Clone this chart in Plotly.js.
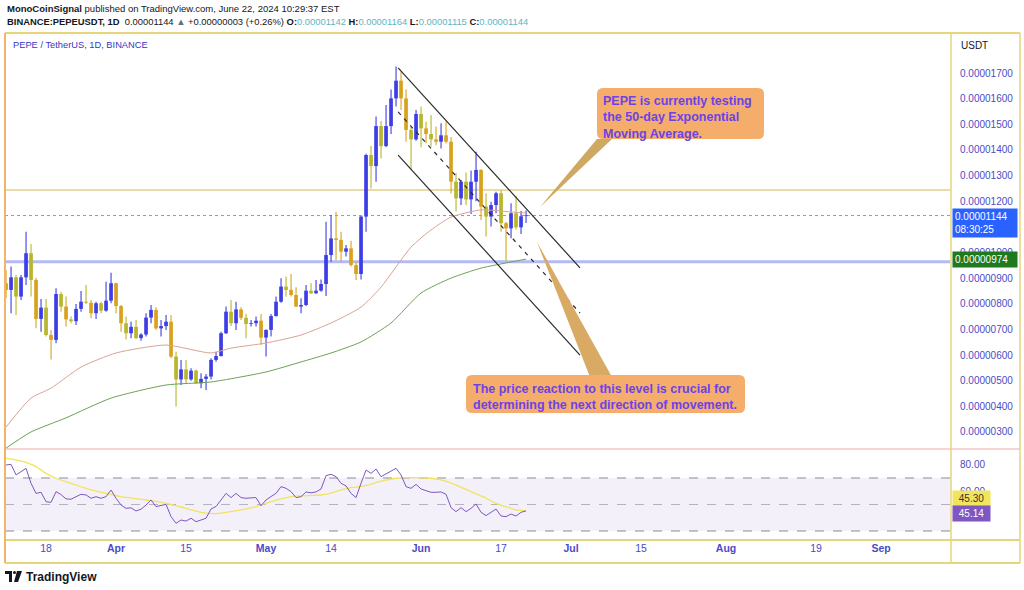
<!DOCTYPE html>
<html><head><meta charset="utf-8">
<script src="https://cdn.plot.ly/plotly-3.0.1.min.js"></script>
<style>html,body{margin:0;padding:0;background:#fff}#chart{width:1024px;height:590px}</style>
</head><body><div id="chart"></div>
<script>
// ---------------- DATA (prices in millionths of USDT) ----------------
const U = 1e-6;
const firstDay = [2024, 2, 10]; // 10 March 2024, daily candles
const openP = [8.80,8.54,9.03,8.28,9.03,9.97,8.93,7.41,7.85,6.78,
 6.59,8.38,7.89,7.39,7.32,7.80,8.08,8.04,7.63,8.02,
 7.73,8.12,8.80,7.91,7.24,6.85,7.10,6.66,6.80,7.46,
 7.76,7.04,7.13,7.30,5.94,5.05,5.44,5.05,5.39,4.90,
 5.07,5.16,5.81,5.96,6.85,7.69,7.24,7.78,7.45,7.21,
 7.24,7.34,6.68,6.98,7.52,8.08,8.67,8.54,8.34,7.89,
 7.95,8.51,8.41,8.51,8.77,9.90,10.55,10.49,10.03,10.16,
 9.51,9.16,11.40,13.80,13.37,14.93,14.15,14.93,16.01,16.70,
 16.01,14.78,14.41,15.40,14.84,14.62,14.41,14.32,14.57,14.32,
 12.76,12.11,12.76,12.07,12.76,13.22,11.79,11.40,11.85,12.31,
 11.14,10.94,11.53,10.98,11.42];
const highP = [9.32,9.45,9.12,9.12,10.81,10.33,9.00,8.19,8.19,6.98,
 8.60,8.47,8.28,7.50,7.99,8.50,8.73,8.15,8.08,8.08,
 8.86,9.21,8.82,7.95,7.50,7.30,7.37,6.85,7.63,7.95,
 7.86,7.37,7.56,7.56,6.13,5.81,5.81,5.48,5.44,5.29,
 5.26,5.87,6.13,6.91,7.89,8.15,8.08,7.86,7.60,7.37,
 7.50,7.60,7.00,7.60,8.28,8.99,9.06,9.16,8.64,8.21,
 8.73,8.80,8.93,8.95,11.20,11.46,11.59,10.81,10.29,10.46,
 9.64,11.42,13.85,14.15,15.30,15.13,15.75,16.36,17.25,17.05,
 16.36,14.91,15.56,15.69,15.10,15.36,14.91,15.04,15.10,14.50,
 13.10,12.83,13.12,13.20,13.93,13.25,12.31,11.98,12.37,12.44,
 11.20,11.92,12.20,11.62,11.64];
const lowP = [8.21,7.63,7.56,8.15,8.73,8.28,7.04,6.91,6.72,5.83,
 6.46,7.69,7.11,7.24,7.17,7.69,7.99,7.43,7.41,7.63,
 7.69,8.02,7.63,6.91,6.61,6.65,6.62,6.56,6.72,7.24,
 6.98,6.72,6.98,5.87,3.99,4.83,4.90,5.00,4.87,4.70,
 4.64,5.05,5.74,5.94,6.82,7.13,6.98,7.37,6.65,7.11,
 7.11,6.39,5.94,6.72,7.50,8.04,8.28,8.28,7.86,7.63,
 7.91,8.38,8.38,8.47,8.30,9.64,9.71,9.64,9.84,9.45,
 8.93,8.95,10.81,12.50,12.76,13.67,14.10,14.62,15.69,15.56,
 14.32,13.24,14.36,14.10,14.26,14.13,14.19,14.06,14.26,12.30,
 11.60,11.85,11.85,11.50,12.00,11.27,10.62,11.01,11.53,10.81,
 9.68,10.55,10.90,10.72,11.15];
const closeP = [8.54,9.03,8.28,9.03,9.97,8.93,7.41,7.85,6.78,6.59,
 8.38,7.89,7.39,7.32,7.80,8.08,8.04,7.63,8.02,7.73,
 8.12,8.80,7.91,7.24,6.85,7.10,6.66,6.80,7.46,7.76,
 7.04,7.13,7.30,5.94,5.05,5.44,5.05,5.39,4.90,5.07,
 5.16,5.81,5.96,6.85,7.69,7.24,7.78,7.45,7.21,7.24,
 7.34,6.68,6.98,7.52,8.08,8.67,8.54,8.34,7.89,7.95,
 8.51,8.41,8.51,8.77,9.90,10.55,10.49,10.03,10.16,9.51,
 9.16,11.40,13.80,13.37,14.93,14.15,14.93,16.01,16.70,16.01,
 14.78,14.41,15.40,14.84,14.62,14.41,14.32,14.57,14.32,12.76,
 12.11,12.76,12.07,12.76,13.22,11.79,11.40,11.85,12.31,11.14,
 10.94,11.53,10.98,11.41,11.44];
// candle numbers (1-based) drawn in the muted olive bearish tone
const oliveCandles = [3,6,9,12,14,17,20,25,27,35,37,39,46,49,57,62,74,76,82,84,86,91,93,97,100,103];

const emaFastDates = ['2024-03-10','2024-03-15','2024-03-19','2024-03-25','2024-04-01','2024-04-11','2024-04-20','2024-04-24','2024-05-01','2024-05-08','2024-05-14','2024-05-20','2024-05-24','2024-05-30','2024-06-03','2024-06-07','2024-06-13','2024-06-19','2024-06-22'];
const emaFast = [3.19,4.32,4.71,5.53,6.08,6.39,6.08,6.27,6.47,6.78,7.25,7.87,8.65,10.21,10.88,11.38,11.66,11.58,11.54];
const emaSlowDates = ['2024-03-10','2024-03-15','2024-03-22','2024-03-31','2024-04-11','2024-04-20','2024-05-01','2024-05-08','2024-05-14','2024-05-20','2024-05-26','2024-06-01','2024-06-07','2024-06-13','2024-06-19','2024-06-22'];
const emaSlow = [2.37,3.00,3.55,4.32,4.83,4.95,5.34,5.73,6.08,6.51,7.25,8.42,9.00,9.39,9.63,9.74];

const rsi = [79.8,80.3,72.3,75.0,77.3,66.0,58.4,59.2,52.1,51.6,
 59.7,57.5,54.2,54.0,55.9,57.7,57.2,54.7,55.9,54.7,
 55.9,60.9,54.7,49.6,47.1,47.5,45.1,46.5,49.6,53.4,
 48.4,49.0,50.1,40.8,35.8,38.3,37.5,39.6,37.0,38.3,
 39.6,46.6,48.5,53.4,58.4,55.2,58.4,55.2,54.7,55.0,
 55.2,49.1,53.4,56.0,58.4,63.5,62.2,59.7,55.2,55.9,
 59.5,58.8,59.5,61.7,71.8,72.8,71.0,66.0,64.0,58.4,
 55.2,66.0,76.0,73.5,76.8,71.0,73.0,75.5,77.3,72.3,
 63.5,62.2,65.2,61.7,60.2,59.2,59.2,59.5,57.7,47.6,
 44.6,47.6,44.6,47.1,50.4,44.1,41.6,43.8,46.6,41.3,
 40.8,42.8,41.3,44.1,45.14];
const rsiMaDates = ['2024-03-10','2024-03-12','2024-03-14','2024-03-16','2024-03-18','2024-03-20','2024-03-23','2024-03-26','2024-03-30','2024-04-02','2024-04-07','2024-04-11','2024-04-15','2024-04-18','2024-04-21','2024-04-23','2024-04-26','2024-04-29','2024-05-02','2024-05-06','2024-05-09','2024-05-13','2024-05-16','2024-05-18','2024-05-21','2024-05-24','2024-05-27','2024-05-29','2024-06-03','2024-06-05','2024-06-08','2024-06-11','2024-06-14','2024-06-16','2024-06-19','2024-06-20','2024-06-21','2024-06-22'];
const rsiMa = [84.8,83.6,81.8,78.6,73.5,69.8,66.0,62.2,58.4,55.9,53.4,50.9,47.1,44.1,43.1,44.1,45.9,48.4,52.1,55.9,56.7,57.7,61.0,62.7,64.2,67.7,69.8,70.3,69.8,68.5,64.7,59.7,54.7,50.9,47.1,46.0,45.6,45.30];

const channelDates = ['2024-05-27 10:00','2024-07-02 19:00'];
const channelUpper = [17.20, 9.40];
const channelMid = [15.48, 7.64];
const channelLower = [13.80, 6.00];
const resistanceLevel = 12.44;
const supportLevel = 9.64;

const timeTickDates = ['2024-03-18','2024-04-01','2024-04-15','2024-05-01','2024-05-14','2024-06-01','2024-06-17','2024-07-01','2024-07-15','2024-08-01','2024-08-19','2024-09-01'];
const timeTickText = ['18','<b>Apr</b>','15','<b>May</b>','14','<b>Jun</b>','17','<b>Jul</b>','15','<b>Aug</b>','19','<b>Sep</b>'];
// 0.00001100 sits under the live-price label in the reference, so it is not listed
const priceTicks = [3,4,5,6,7,8,9,10,12,13,14,15,16,17];
const rsiTicks = [40,60,80];

// ---------------- BUILD ----------------
const dates = openP.map((_, i) => new Date(Date.UTC(firstDay[0], firstDay[1], firstDay[2] + i)).toISOString().slice(0, 10));
const BULL = '#3d3de6', GOLD = '#d9a21e', OLIVE = '#b7b62c';
const colors = openP.map((o, i) => closeP[i] >= o ? BULL : (oliveCandles.includes(i + 1) ? OLIVE : GOLD));
const DAY = 86400000;

const FONT = 'Liberation Sans, Arial, sans-serif';
const TICKC = '#4b4bc6';
const W = 1024, H = 590, ML = 5, MR = 74, MT = 33, MB = 50;
const pw = W - ML - MR, ph = H - MT - MB;
const px = x => (x - ML) / pw;
const py = y => (H - MB - y) / ph;

function roundRect(x0, y0, x1, y1, r) {
  const a = px(x0), b = px(x1), t = py(y0), u = py(y1), rx = r / pw, ry = r / ph;
  return `M ${a+rx} ${t} L ${b-rx} ${t} Q ${b} ${t} ${b} ${t-ry} L ${b} ${u+ry} Q ${b} ${u} ${b-rx} ${u} L ${a+rx} ${u} Q ${a} ${u} ${a} ${u+ry} L ${a} ${t-ry} Q ${a} ${t} ${a+rx} ${t} Z`;
}
function tri(p) { return 'M ' + p.map(q => px(q[0]) + ' ' + py(q[1])).join(' L ') + ' Z'; }
function hline(y, x0, x1, color, w) { return {type:'line', xref:'paper', yref:'paper', x0:px(x0), x1:px(x1), y0:py(y), y1:py(y), line:{color, width:w}, layer:'above'}; }
function vline(x, y0, y1, color, w) { return {type:'line', xref:'paper', yref:'paper', x0:px(x), x1:px(x), y0:py(y0), y1:py(y1), line:{color, width:w}, layer:'above'}; }

const traces = [
  {type:'bar', x:dates, base:lowP.map(v => v*U), y:highP.map((h,i) => (h-lowP[i])*U), width:0.22*DAY,
   marker:{color:colors, line:{width:0}}, hoverinfo:'skip', yaxis:'y'},
  {type:'bar', x:dates, base:openP.map((o,i) => Math.min(o, closeP[i])*U), y:openP.map((o,i) => Math.max(Math.abs(closeP[i]-o), 0.03)*U), width:0.74*DAY,
   marker:{color:colors, line:{width:0}}, hoverinfo:'skip', yaxis:'y'},
  {type:'scatter', mode:'lines', x:emaFastDates, y:emaFast.map(v=>v*U), line:{color:'#d9a396', width:1, shape:'spline', smoothing:0.6}, yaxis:'y', hoverinfo:'skip'},
  {type:'scatter', mode:'lines', x:emaSlowDates, y:emaSlow.map(v=>v*U), line:{color:'#6aa257', width:1, shape:'spline', smoothing:0.6}, yaxis:'y', hoverinfo:'skip'},
  {type:'scatter', mode:'lines', x:channelDates, y:channelUpper.map(v=>v*U), line:{color:'#2b2b2b', width:1.2}, yaxis:'y', hoverinfo:'skip'},
  {type:'scatter', mode:'lines', x:channelDates, y:channelMid.map(v=>v*U), line:{color:'#2b2b2b', width:1.2, dash:'4px,5px'}, yaxis:'y', hoverinfo:'skip'},
  {type:'scatter', mode:'lines', x:channelDates, y:channelLower.map(v=>v*U), line:{color:'#2b2b2b', width:1.2}, yaxis:'y', hoverinfo:'skip'},
  {type:'scatter', mode:'lines', x:rsiMaDates, y:rsiMa, line:{color:'#f0e45c', width:1.3, shape:'spline'}, yaxis:'y2', hoverinfo:'skip'},
  {type:'scatter', mode:'lines', x:dates, y:rsi, line:{color:'#7e57c2', width:1}, yaxis:'y2', hoverinfo:'skip'}
];

const last = openP.length - 1;
const lastC = closeP[last], prevC = closeP[last-1];
const chg = lastC - prevC;
const f8 = v => (v*U).toFixed(8);
const teal = s => `<span style="color:#5db5c2">${s}</span>`;
const headerLine2 = `<b>BINANCE:PEPEUSDT, 1D</b>  ${f8(lastC)} <span style="color:#5f6f86">▲</span> ${chg>=0?'+':''}${f8(chg)} (${chg>=0?'+':''}${(chg/prevC*100).toFixed(2)}%) ` +
  `<b>O:</b>${teal(f8(openP[last]))} <b>H:</b>${teal(f8(highP[last]))} <b>L:</b>${teal(f8(lowP[last]))} <b>C:</b>${teal(f8(lastC))}`;

const FRAME = '#e6d57a';
const shapes = [
  {type:'rect', xref:'paper', yref:'y2', x0:0, x1:1, y0:30, y1:70, fillcolor:'rgba(126,87,194,0.09)', line:{width:0}, layer:'below'},
  {type:'line', xref:'paper', yref:'y2', x0:0, x1:1, y0:70, y1:70, line:{color:'#8a8a96', width:1, dash:'dash'}, layer:'below'},
  {type:'line', xref:'paper', yref:'y2', x0:0, x1:1, y0:50, y1:50, line:{color:'#b4b4c0', width:1, dash:'dash'}, layer:'below'},
  {type:'line', xref:'paper', yref:'y2', x0:0, x1:1, y0:30, y1:30, line:{color:'#8a8a96', width:1, dash:'dash'}, layer:'below'},
  {type:'line', xref:'paper', yref:'y', x0:0, x1:1, y0:resistanceLevel*U, y1:resistanceLevel*U, line:{color:'#e8dba6', width:2}, layer:'below'},
  {type:'line', xref:'paper', yref:'y', x0:0, x1:1, y0:supportLevel*U, y1:supportLevel*U, line:{color:'#b5baf4', width:3}, layer:'below'},
  {type:'line', xref:'paper', yref:'y', x0:0, x1:1, y0:lastC*U, y1:lastC*U, line:{color:'#8c8ce6', width:1, dash:'dot'}, layer:'below'},
  // callouts
  {type:'path', xref:'paper', yref:'paper', path:tri([[597,139],[612,139],[540,207]]), fillcolor:'#cfa862', line:{width:0}, layer:'above'},
  {type:'path', xref:'paper', yref:'paper', path:tri([[590,377],[612,377],[537,242]]), fillcolor:'#d8aa64', line:{width:0}, layer:'above'},
  {type:'path', xref:'paper', yref:'paper', path:roundRect(597,88,764,139,6), fillcolor:'#f5ad6c', line:{width:0}, layer:'above'},
  {type:'path', xref:'paper', yref:'paper', path:roundRect(466,375,745,413,6), fillcolor:'#f5ad6c', line:{width:0}, layer:'above'},
  // frame
  hline(33, 5, 1020, FRAME, 2),
  hline(449, 5, 1020, '#f2a7a7', 1.2),
  hline(540, 5, 1020, FRAME, 2),
  hline(563, 5, 1020, FRAME, 2),
  vline(5, 33, 563, '#f2b36b', 2),
  vline(951, 33, 563, FRAME, 1.5),
  vline(1020, 33, 563, FRAME, 1.5),
  // logo
  {type:'path', xref:'paper', yref:'paper', path:`M ${px(5)} ${py(571)} L ${px(12)} ${py(571)} L ${px(12)} ${py(582)} L ${px(9)} ${py(582)} L ${px(9)} ${py(574)} L ${px(5)} ${py(574)} Z`, fillcolor:'#131722', line:{width:0}},
  {type:'circle', xref:'paper', yref:'paper', x0:px(13), x1:px(16), y0:py(571), y1:py(574), fillcolor:'#131722', line:{width:0}},
  {type:'path', xref:'paper', yref:'paper', path:`M ${px(17)} ${py(571)} L ${px(22)} ${py(571)} L ${px(18)} ${py(582)} L ${px(14)} ${py(582)} Z`, fillcolor:'#131722', line:{width:0}}
];

const CALLC = '#6b43e6';
const annotations = [
  {xref:'paper', yref:'paper', x:px(5), y:py(9), xanchor:'left', yanchor:'middle', showarrow:false,
   text:'<b>MonoCoinSignal</b> published on TradingView.com, June 22, 2024 10:29:37 EST', font:{family:FONT, size:9.5, color:'#131722'}},
  {xref:'paper', yref:'paper', x:px(5), y:py(22), xanchor:'left', yanchor:'middle', showarrow:false,
   text:headerLine2, font:{family:FONT, size:9.4, color:'#131722'}},
  {xref:'paper', yref:'paper', x:px(11), y:py(45), xanchor:'left', yanchor:'middle', showarrow:false,
   text:'PEPE / TetherUS, 1D, BINANCE', font:{family:FONT, size:9.3, color:'#3636c8'}},
  {xref:'paper', yref:'paper', x:px(959), y:py(45), xanchor:'left', yanchor:'middle', showarrow:false,
   text:'USDT', font:{family:FONT, size:10, color:'#131722'}},
  {xref:'paper', yref:'paper', x:px(601), y:py(92), xanchor:'left', yanchor:'top', align:'left', showarrow:false,
   text:'<b>PEPE is currently testing<br>the 50-day Exponential<br>Moving Average.</b>', font:{family:FONT, size:12.5, color:CALLC}},
  {xref:'paper', yref:'paper', x:px(471), y:py(380), xanchor:'left', yanchor:'top', align:'left', showarrow:false,
   text:'<b>The price reaction to this level is crucial for<br>determining the next direction of movement.</b>', font:{family:FONT, size:12.5, color:CALLC}},
  {xref:'paper', yref:'y', x:px(952), y:lastC*U, xanchor:'left', yanchor:'top', yshift:8, align:'left', showarrow:false,
   text:f8(lastC)+'<br>08:30:25', bgcolor:'#2962ff', borderpad:2, width:60, font:{family:FONT, size:10, color:'#ffffff'}},
  {xref:'paper', yref:'y', x:px(952), y:emaSlow[emaSlow.length-1]*U, xanchor:'left', yanchor:'middle', showarrow:false,
   text:f8(emaSlow[emaSlow.length-1]), bgcolor:'#1f7a1f', borderpad:2, width:60, align:'left', font:{family:FONT, size:10, color:'#ffffff'}},
  {xref:'paper', yref:'y2', x:px(952), y:rsiMa[rsiMa.length-1], xanchor:'left', yanchor:'middle', yshift:12, showarrow:false,
   text:rsiMa[rsiMa.length-1].toFixed(2), bgcolor:'#f2e55c', borderpad:2, width:33, font:{family:FONT, size:10, color:'#333333'}},
  {xref:'paper', yref:'y2', x:px(952), y:rsi[rsi.length-1], xanchor:'left', yanchor:'middle', yshift:-3, showarrow:false,
   text:rsi[rsi.length-1].toFixed(2), bgcolor:'#7e57c2', borderpad:2, width:33, font:{family:FONT, size:10, color:'#ffffff'}},
  {xref:'paper', yref:'paper', x:px(24), y:py(577), xanchor:'left', yanchor:'middle', showarrow:false,
   text:'<b>TradingView</b>', font:{family:FONT, size:12, color:'#131722'}}
];

const layout = {
  width:W, height:H, margin:{l:ML, r:MR, t:MT, b:MB},
  paper_bgcolor:'#ffffff', plot_bgcolor:'#ffffff',
  showlegend:false, barmode:'overlay', hovermode:false,
  font:{family:FONT, size:10, color:TICKC},
  xaxis:{type:'date', anchor:'y2', range:['2024-03-09 19:00','2024-09-14 19:00'], tickvals:timeTickDates, ticktext:timeTickText,
    showgrid:false, zeroline:false, showline:false, ticks:'', tickfont:{family:FONT, size:10.5, color:TICKC}},
  yaxis:{domain:[(540-449)/ph, 1], range:[2.335*U, 18.56*U], side:'right', tickvals:priceTicks.map(v=>v*U), tickformat:'.8f',
    showgrid:false, zeroline:false, showline:false, ticks:'outside', ticklen:7, tickcolor:'rgba(0,0,0,0)', tickfont:{family:FONT, size:10, color:TICKC}},
  yaxis2:{domain:[0, 90/ph], range:[23.2, 91.13], side:'right', tickvals:rsiTicks, tickformat:'.2f',
    showgrid:false, zeroline:false, showline:false, ticks:'outside', ticklen:7, tickcolor:'rgba(0,0,0,0)', tickfont:{family:FONT, size:10, color:TICKC}},
  shapes, annotations
};

Plotly.newPlot('chart', traces, layout, {staticPlot:true, displayModeBar:false});
</script></body></html>
